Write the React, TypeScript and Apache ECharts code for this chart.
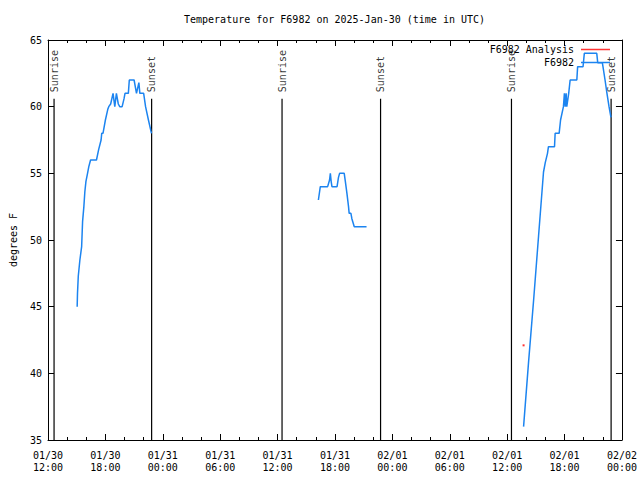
import React, { useEffect, useRef } from 'react';
import * as echarts from 'echarts';

const YEAR = 2025;
const chartTitle = 'Temperature for F6982 on 2025-Jan-30 (time in UTC)';
const yAxisTitle = 'degrees F';
const stationName = 'F6982';
const analysisName = 'F6982 Analysis';

// Observed temperature, segment 1 (01/30 afternoon)
const seg1Times = ['01/30 15:03', '01/30 15:05', '01/30 15:10', '01/30 15:20', '01/30 15:31', '01/30 15:37', '01/30 15:45', '01/30 15:51', '01/30 15:58', '01/30 16:08', '01/30 16:16', '01/30 16:27', '01/30 17:04', '01/30 17:18', '01/30 17:33', '01/30 17:37', '01/30 17:45', '01/30 18:00', '01/30 18:15', '01/30 18:21', '01/30 18:33', '01/30 18:48', '01/30 18:59', '01/30 19:09', '01/30 19:21', '01/30 19:30', '01/30 19:45', '01/30 19:57', '01/30 20:03', '01/30 20:24', '01/30 20:30', '01/30 21:00', '01/30 21:15', '01/30 21:30', '01/30 21:36', '01/30 22:00', '01/30 22:12', '01/30 22:30', '01/30 22:45', '01/30 22:49'];
const seg1Temps = [45, 46, 47.3, 48.5, 49.5, 51.4, 52.5, 53.6, 54.4, 55, 55.5, 56, 56, 56.8, 57.5, 58, 58, 59, 59.8, 60, 60.2, 61, 60, 61, 60.2, 60, 60, 60.6, 61, 61, 62, 62, 61, 61.8, 61, 61, 60, 59, 58.2, 58];

// segment 2 (01/31 afternoon)
const seg2Times = ['01/31 16:16', '01/31 16:28', '01/31 17:14', '01/31 17:26', '01/31 17:31', '01/31 17:36', '01/31 17:41', '01/31 18:13', '01/31 18:22', '01/31 18:29', '01/31 18:58', '01/31 19:05', '01/31 19:15', '01/31 19:25', '01/31 19:29', '01/31 19:40', '01/31 19:46', '01/31 20:01', '01/31 21:18'];
const seg2Temps = [53, 54, 54, 54.5, 55, 54.4, 54, 54, 54.7, 55, 55, 54.4, 53.5, 52.5, 52, 52, 51.6, 51, 51];

// segment 3 (02/01 afternoon)
const seg3Times = ['02/01 13:43', '02/01 14:14', '02/01 14:46', '02/01 15:17', '02/01 15:48', '02/01 15:59', '02/01 16:13', '02/01 16:19', '02/01 16:57', '02/01 17:01', '02/01 17:26', '02/01 17:35', '02/01 17:53', '02/01 17:59', '02/01 18:04', '02/01 18:10', '02/01 18:14', '02/01 18:26', '02/01 18:35', '02/01 19:17', '02/01 19:22', '02/01 19:56', '02/01 20:04', '02/01 21:22', '02/01 21:28', '02/01 21:57', '02/01 22:01', '02/01 22:14', '02/01 22:26', '02/01 22:39', '02/01 22:51'];
const seg3Temps = [36, 40.8, 45.5, 50.3, 55.1, 55.8, 56.5, 57, 57, 58, 58, 59, 60, 61, 60, 61, 60, 61, 62, 62, 63, 63, 64, 64, 63.3, 63.3, 63, 62, 61, 60, 59.2];

// analysis point
const analysisTimes = ['02/01 13:43'];
const analysisTemps = [42.1];

// sunrise / sunset markers
const sunTimes = ['01/30 12:38', '01/30 22:50', '01/31 12:28', '01/31 22:46', '02/01 12:27', '02/01 22:52'];
const sunLabels = ['Sunrise', 'Sunset', 'Sunrise', 'Sunset', 'Sunrise', 'Sunset'];
const sunLineTop = 60.6;

// axes
const xStart = '01/30 12:00';
const xEnd = '02/02 00:00';
const xStepHours = 6;
const yMin = 35;
const yMax = 65;
const yStep = 5;

const FONT = 'DejaVu Sans Mono';
const BLUE = '#1c84f0';
const RED = '#ff0000';

function ts(s: string): number {
  const [d, t] = s.split(' ');
  const [mo, da] = d.split('/').map(Number);
  const [h, mi] = t.split(':').map(Number);
  return Date.UTC(YEAR, mo - 1, da, h, mi);
}

function pad(n: number) {
  return String(n).padStart(2, '0');
}

function fmt(v: number) {
  const d = new Date(v);
  return `${pad(d.getUTCMonth() + 1)}/${pad(d.getUTCDate())}\n${pad(d.getUTCHours())}:${pad(d.getUTCMinutes())}`;
}

function zip(times: string[], vals: number[]) {
  return times.map((t, i) => [ts(t), vals[i]]);
}

export default function App() {
  const ref = useRef<HTMLDivElement>(null);
  useEffect(() => {
    if (!ref.current) return;
    const chart = echarts.init(ref.current, undefined, { renderer: 'svg' });
    const xMin = ts(xStart);
    const xMax = ts(xEnd);
    const interval = xStepHours * 3600 * 1000;

    const baseX = {
      type: 'value' as const,
      min: xMin,
      max: xMax,
      interval,
      splitLine: { show: false },
      axisLine: { show: true, onZero: false, lineStyle: { color: '#000', width: 1 } },
      axisTick: { show: true, inside: true, length: 6, lineStyle: { color: '#000' } },
      minorTick: { show: true, splitNumber: 3, length: 3, lineStyle: { color: '#000' } },
    };
    const baseY = {
      type: 'value' as const,
      min: yMin,
      max: yMax,
      interval: yStep,
      splitLine: { show: false },
      axisLine: { show: true, onZero: false, lineStyle: { color: '#000', width: 1 } },
      axisTick: { show: true, inside: true, length: 6, lineStyle: { color: '#000' } },
    };

    const segLine = (data: number[][]) => ({
      type: 'line',
      name: stationName,
      data,
      symbol: 'none',
      showSymbol: false,
      lineStyle: { color: BLUE, width: 1.5 },
      itemStyle: { color: BLUE },
      silent: true,
      z: 3,
    });

    const sunLineSeries = sunTimes.map((t) => ({
      type: 'line',
      name: 'sun',
      data: [
        [ts(t), yMin],
        [ts(t), sunLineTop],
      ],
      symbol: 'none',
      showSymbol: false,
      lineStyle: { color: '#000', width: 1.2 },
      itemStyle: { color: '#000' },
      silent: true,
      z: 2,
    }));

    chart.setOption({
      animation: false,
      backgroundColor: '#fff',
      title: {
        text: chartTitle,
        left: 184,
        top: 14,
        padding: 0,
        textStyle: { fontFamily: FONT, fontSize: 10, fontWeight: 'normal', color: '#000' },
      },
      legend: {
        data: [analysisName, stationName],
        orient: 'vertical',
        right: 30,
        top: 43,
        padding: 0,
        align: 'right',
        icon: 'rect',
        itemWidth: 29,
        itemHeight: 1.5,
        itemGap: 0,
        selectedMode: false,
        textStyle: { fontFamily: FONT, fontSize: 10, lineHeight: 13, color: '#000', padding: [0, 2, 0, 0] },
      },
      grid: { left: 45, right: 18, top: 40, bottom: 40, containLabel: false },
      xAxis: [
        {
          ...baseX,
          position: 'bottom',
          axisLabel: {
            show: true,
            formatter: fmt,
            fontFamily: FONT,
            fontSize: 10,
            lineHeight: 12,
            margin: 9,
            color: '#000',
            showMinLabel: true,
            showMaxLabel: true,
          },
        },
        { ...baseX, position: 'top', axisLabel: { show: false } },
      ],
      yAxis: [
        {
          ...baseY,
          position: 'left',
          name: yAxisTitle,
          nameLocation: 'middle',
          nameGap: 30,
          nameRotate: 90,
          nameTextStyle: { fontFamily: FONT, fontSize: 10, color: '#000' },
          axisLabel: { show: true, fontFamily: FONT, fontSize: 10, margin: 6, color: '#000' },
        },
        { ...baseY, position: 'right', axisLabel: { show: false } },
      ],
      series: [
        ...sunLineSeries,
        {
          type: 'scatter',
          name: 'sunLabels',
          data: sunTimes.map((t, i) => ({ value: [ts(t), sunLineTop], name: sunLabels[i] })),
          symbolSize: 1,
          itemStyle: { color: 'rgba(0,0,0,0)' },
          silent: true,
          label: {
            show: true,
            formatter: (p: any) => p.name,
            position: 'top',
            distance: 6,
            rotate: 90,
            align: 'left',
            verticalAlign: 'middle',
            fontFamily: FONT,
            fontSize: 10,
            color: '#000',
          },
        },
        segLine(zip(seg1Times, seg1Temps)),
        segLine(zip(seg2Times, seg2Temps)),
        segLine(zip(seg3Times, seg3Temps)),
        {
          type: 'scatter',
          name: analysisName,
          data: zip(analysisTimes, analysisTemps),
          symbol: 'rect',
          symbolSize: 2,
          itemStyle: { color: RED },
          silent: true,
          z: 4,
        },
      ],
    });
    return () => chart.dispose();
  }, []);
  return (
    <div
      ref={ref}
      style={{ position: 'fixed', left: 0, top: 0, width: 640, height: 480, background: '#fff' }}
    />
  );
}
